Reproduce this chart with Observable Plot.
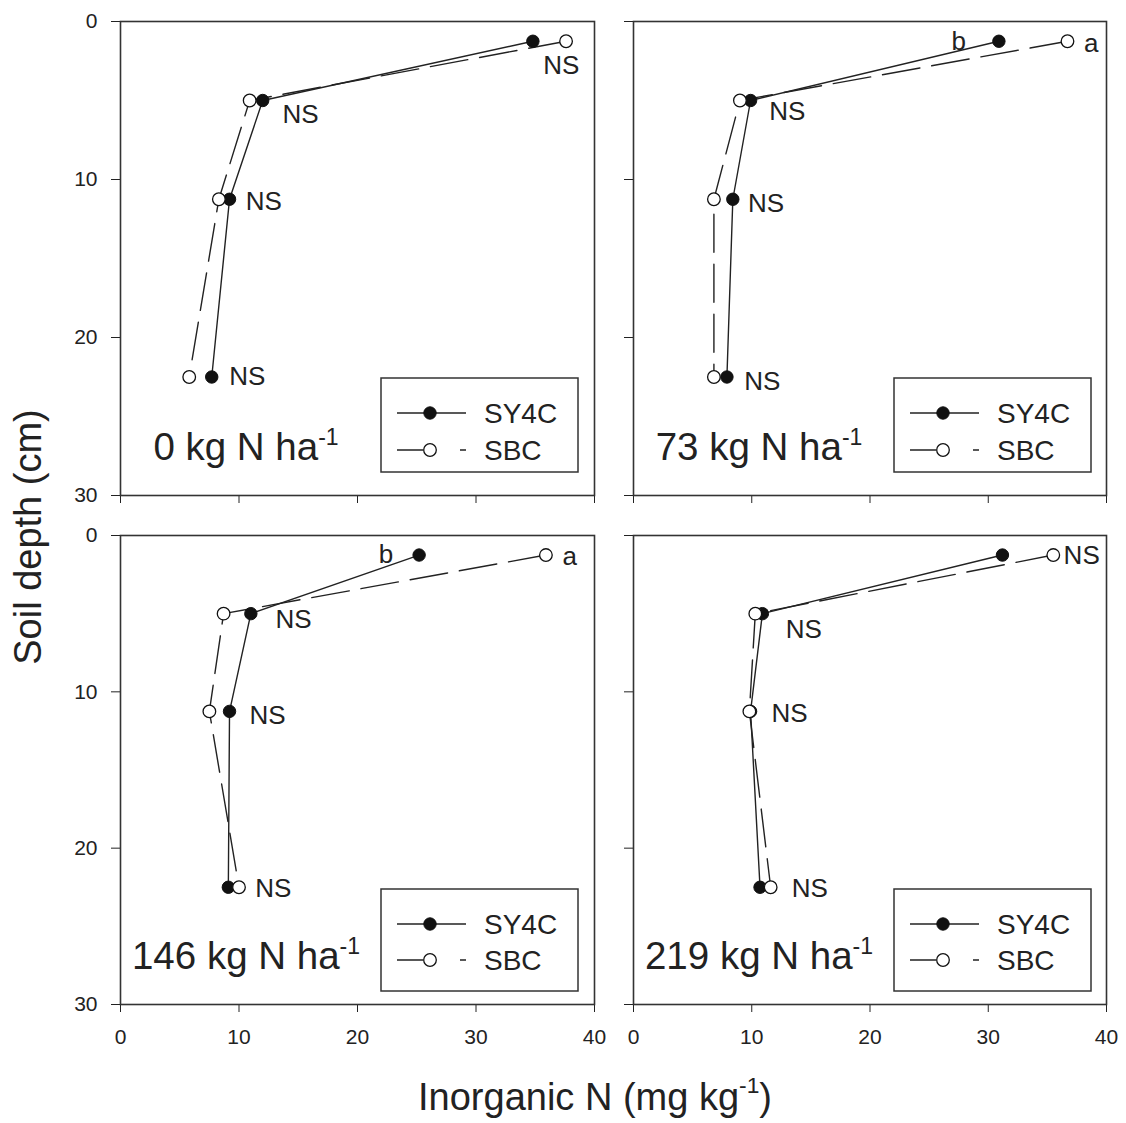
<!DOCTYPE html>
<html>
<head>
<meta charset="utf-8">
<script src="https://cdn.jsdelivr.net/npm/d3@7"></script>
<script src="https://cdn.jsdelivr.net/npm/@observablehq/plot@0.6"></script>
<style>
  html, body { margin: 0; padding: 0; background: #fff; }
  #root { position: relative; width: 1126px; height: 1123px; background: #fff;
          font-family: "Liberation Sans", Arial, Helvetica, sans-serif; color: #222; overflow: hidden; }
  .panel { position: absolute; }
  .panel svg { overflow: visible; }
  .axlabel { position: absolute; font-size: 38px; line-height: 1; white-space: nowrap; }
  .sup { font-size: 0.6em; position: relative; top: -0.75em; }
</style>
</head>
<body>
<div id="root"></div>
<script>
// ---------------- data ----------------
const depths = [1.25, 5, 11.25, 22.5];           // soil depth (cm), layer mid-points
const rates = ["0", "73", "146", "219"];           // N rate (kg N ha-1)
const seriesNames = ["SY4C", "SBC"];
const xTicks = [0, 10, 20, 30, 40];
const yTicks = [0, 10, 20, 30];

const sy4c_0   = [34.8, 12.0, 9.2, 7.7];
const sbc_0    = [37.6, 10.9, 8.3, 5.8];
const sy4c_73  = [30.9, 9.9, 8.4, 7.9];
const sbc_73   = [36.7, 9.0, 6.8, 6.8];
const sy4c_146 = [25.2, 11.0, 9.2, 9.1];
const sbc_146  = [35.9, 8.7, 7.5, 10.0];
const sy4c_219 = [31.2, 10.9, 9.9, 10.7];
const sbc_219  = [35.5, 10.3, 9.8, 11.6];

// significance letters: [text, x (mg kg-1), depth (cm)]
const notes_0   = [["NS", 37.2, 2.8], ["NS", 15.2, 5.9], ["NS", 12.1, 11.4], ["NS", 10.7, 22.5]];
const notes_73  = [["b", 27.5, 1.3], ["a", 38.7, 1.4], ["NS", 13.0, 5.7], ["NS", 11.2, 11.5], ["NS", 10.9, 22.8]];
const notes_146 = [["b", 22.4, 1.2], ["a", 37.9, 1.35], ["NS", 14.6, 5.4], ["NS", 12.4, 11.5], ["NS", 12.9, 22.6]];
const notes_219 = [["NS", 37.9, 1.3], ["NS", 14.4, 6.0], ["NS", 13.2, 11.4], ["NS", 14.9, 22.6]];

const xTitle = "Inorganic N (mg kg";
const yTitle = "Soil depth (cm)";

// ---------------- layout ----------------
const FONT = "Liberation Sans, Arial, Helvetica, sans-serif";
const INK = "#222";

const panels = [
  {rate: rates[0], sy: sy4c_0,   sb: sbc_0,   notes: notes_0,   left: 0,   top: 0,   width: 610, height: 515, mL: 120, mR: 16, mT: 21, mB: 20, showX: false, showY: true,  legH: 94,  legOff: 117},
  {rate: rates[1], sy: sy4c_73,  sb: sbc_73,  notes: notes_73,  left: 610, top: 0,   width: 516, height: 515, mL: 23,  mR: 20, mT: 21, mB: 20, showX: false, showY: false, legH: 94,  legOff: 117},
  {rate: rates[2], sy: sy4c_146, sb: sbc_146, notes: notes_146, left: 0,   top: 515, width: 610, height: 545, mL: 120, mR: 16, mT: 20, mB: 56, showX: true,  showY: true,  legH: 102, legOff: 115},
  {rate: rates[3], sy: sy4c_219, sb: sbc_219, notes: notes_219, left: 610, top: 515, width: 516, height: 545, mL: 23,  mR: 20, mT: 20, mB: 56, showX: true,  showY: false, legH: 102, legOff: 115}
];

const root = document.getElementById("root");

for (const p of panels) {
  const syRows = depths.map((d, i) => ({depth: d, v: p.sy[i], series: seriesNames[0]}));
  const sbRows = depths.map((d, i) => ({depth: d, v: p.sb[i], series: seriesNames[1]}));

  const svg = Plot.plot({
    width: p.width,
    height: p.height,
    marginLeft: p.mL,
    marginRight: p.mR,
    marginTop: p.mT,
    marginBottom: p.mB,
    style: {fontFamily: FONT, fontSize: "21px", color: INK, background: "transparent", overflow: "visible"},
    x: {domain: [0, 40], ticks: xTicks, tickSize: 8, tickPadding: 17, label: null,
        tickFormat: p.showX ? (d => String(d)) : (() => "")},
    y: {domain: [0, 30], reverse: true, ticks: yTicks, tickSize: 9, tickPadding: 14, label: null,
        tickFormat: p.showY ? (d => String(d)) : (() => "")},
    marks: [
      Plot.frame({stroke: "#333", strokeWidth: 1.6}),
      Plot.line(sbRows, {x: "v", y: "depth", stroke: INK, strokeWidth: 1.4, strokeDasharray: "38,12"}),
      Plot.line(syRows, {x: "v", y: "depth", stroke: INK, strokeWidth: 1.4}),
      Plot.dot(syRows, {x: "v", y: "depth", r: 6.2, fill: "#111", stroke: "#111", strokeWidth: 1}),
      Plot.dot(sbRows, {x: "v", y: "depth", r: 6.3, fill: "#fff", stroke: "#111", strokeWidth: 1.3}),
      Plot.text(p.notes, {x: d => d[1], y: d => d[2], text: d => d[0], fontSize: 26, fill: INK, textAnchor: "middle"})
    ]
  });

  const frameL = p.mL;
  const frameB = p.height - p.mB;
  const g = d3.select(svg).append("g")
      .attr("font-family", FONT).attr("fill", INK).attr("text-anchor", "start");

  // panel label: "<rate> kg N ha-1"
  const lab = g.append("text")
      .attr("x", frameL + 126).attr("y", frameB - 35)
      .attr("text-anchor", "middle").attr("font-size", 38.5);
  lab.append("tspan").text(p.rate + " kg N ha");
  lab.append("tspan").attr("dy", -15).attr("font-size", 23).text("-1");

  // legend box
  const bx = frameL + 261, bw = 197, bh = p.legH, by = frameB - p.legOff;
  g.append("rect").attr("x", bx).attr("y", by).attr("width", bw).attr("height", bh)
      .attr("fill", "#fff").attr("stroke", "#333").attr("stroke-width", 1.5);
  const rows = [by + 35, by + (p.legH > 98 ? 71 : 72)];
  // SY4C
  g.append("line").attr("x1", bx + 16).attr("x2", bx + 85).attr("y1", rows[0]).attr("y2", rows[0])
      .attr("stroke", INK).attr("stroke-width", 1.4);
  g.append("circle").attr("cx", bx + 49).attr("cy", rows[0]).attr("r", 6.2)
      .attr("fill", "#111").attr("stroke", "#111");
  // SBC
  g.append("line").attr("x1", bx + 16).attr("x2", bx + 85).attr("y1", rows[1]).attr("y2", rows[1])
      .attr("stroke", INK).attr("stroke-width", 1.4).attr("stroke-dasharray", "26,37,6,20");
  g.append("circle").attr("cx", bx + 49).attr("cy", rows[1]).attr("r", 6.3)
      .attr("fill", "#fff").attr("stroke", "#111").attr("stroke-width", 1.3);
  seriesNames.forEach((s, i) => {
    g.append("text").attr("x", bx + 103).attr("y", rows[i] + 10)
        .attr("text-anchor", "start").attr("font-size", 28).text(s);
  });

  const holder = document.createElement("div");
  holder.className = "panel";
  holder.style.left = p.left + "px";
  holder.style.top = p.top + "px";
  holder.appendChild(svg);
  root.appendChild(holder);
}

// shared axis titles
const xl = document.createElement("div");
xl.className = "axlabel";
xl.style.left = "595px";
xl.style.top = "1078px";
xl.style.transform = "translateX(-50%)";
xl.innerHTML = xTitle + '<span class="sup">-1</span>)';
root.appendChild(xl);

const yl = document.createElement("div");
yl.className = "axlabel";
yl.style.left = "28px";
yl.style.top = "537px";
yl.style.transform = "translate(-50%, -50%) rotate(-90deg)";
yl.textContent = yTitle;
root.appendChild(yl);
</script>
</body>
</html>
